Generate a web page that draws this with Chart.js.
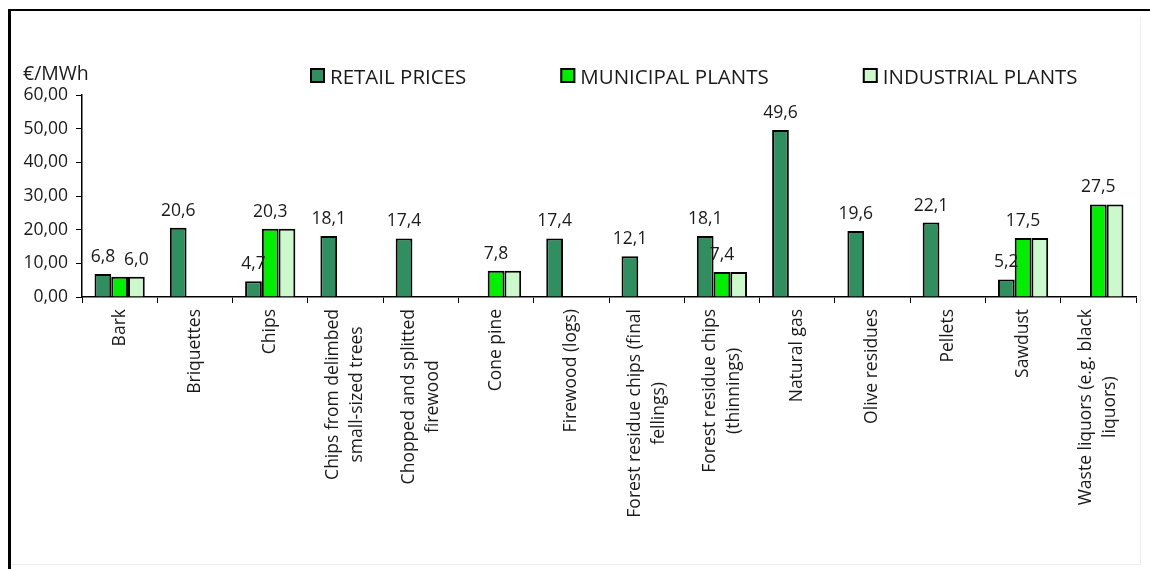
<!DOCTYPE html>
<html>
<head>
<meta charset="utf-8">
<script src="https://cdn.jsdelivr.net/npm/chart.js@4/dist/chart.umd.min.js"></script>
<style>
  html, body { margin: 0; padding: 0; background: #fff; width: 1150px; height: 569px; overflow: hidden; }
  #wrap { position: relative; width: 1150px; height: 569px; }
  #c { position: absolute; left: 0; top: 0; }
  .frame { position: absolute; left: 8px; top: 9px; right: -10px; bottom: -10px;
           border-left: 3px solid #000; border-top: 2px solid #000; pointer-events: none; }
  .edge-r { position: absolute; left: 1140px; top: 17px; width: 1px; height: 548px; background: #ececec; }
  .edge-b { position: absolute; left: 12px; top: 564px; width: 1128px; height: 1px; background: #ececec; }
</style>
</head>
<body>
<div id="wrap">
  <canvas id="c" width="1150" height="569"></canvas>
  <div class="edge-r"></div>
  <div class="edge-b"></div>
  <div class="frame"></div>
</div>
<script>
// Fuel categories (multi-line labels as arrays)
const categories = [
  'Bark',
  'Briquettes',
  'Chips',
  ['Chips from delimbed', 'small-sized trees'],
  ['Chopped and splitted', 'firewood'],
  'Cone pine',
  'Firewood (logs)',
  ['Forest residue chips (final', 'fellings)'],
  ['Forest residue chips', '(thinnings)'],
  'Natural gas',
  'Olive residues',
  'Pellets',
  'Sawdust',
  ['Waste liquors (e.g. black', 'liquors)']
];

// Prices in €/MWh
const retailPrices     = [6.8, 20.6, 4.7, 18.1, 17.4, null, 17.4, 12.1, 18.1, 49.6, 19.6, 22.1, 5.2, null];
const municipalPlants  = [6.0, null, 20.3, null, null, 7.8, null, null, 7.4, null, null, null, 17.5, 27.5];
const industrialPlants = [6.0, null, 20.3, null, null, 7.8, null, null, 7.4, null, null, null, 17.5, 27.5];

const seriesNames = ['RETAIL PRICES', 'MUNICIPAL PLANTS', 'INDUSTRIAL PLANTS'];

// Value axis
const yMin = 0, yMax = 60, yStep = 10;
const yUnit = '€/MWh';

// Where the shared plant price is written above the industrial bar instead of the municipal one
const plantLabelOnIndustrial = ['Bark'];

const FONT = "'Open Sans', 'DejaVu Sans', sans-serif";
const TEXT = '#1a1a1a';

const comma = (v, d) => v.toFixed(d).replace('.', ',');
const catName = (c) => Array.isArray(c) ? c.join(' ') : c;

const showLabel = [
  retailPrices.map(v => v != null),
  municipalPlants.map((v, i) => v != null && !plantLabelOnIndustrial.includes(catName(categories[i]))),
  industrialPlants.map((v, i) => v != null && plantLabelOnIndustrial.includes(catName(categories[i])))
];

// Numbers written above the bars
const valueLabels = {
  id: 'valueLabels',
  afterDatasetsDraw(chart) {
    const ctx = chart.ctx;
    ctx.save();
    ctx.font = `17.5px ${FONT}`;
    ctx.fillStyle = TEXT;
    ctx.textAlign = 'center';
    ctx.textBaseline = 'alphabetic';
    chart.data.datasets.forEach((ds, di) => {
      const meta = chart.getDatasetMeta(di);
      ds.data.forEach((v, i) => {
        if (v == null || !showLabel[di][i]) return;
        const bar = meta.data[i];
        ctx.fillText(comma(v, 1), bar.x, bar.y - 12);
      });
    });
    ctx.restore();
  }
};

// Multi-line category names: centre the block on the category and centre each line
const centredCategoryLabels = {
  id: 'centredCategoryLabels',
  beforeDraw(chart) {
    const scale = chart.scales.x;
    const items = scale.getLabelItems(chart.chartArea);
    const ctx = chart.ctx;
    ctx.save();
    items.forEach(item => {
      if (!Array.isArray(item.label) || item.label.length < 2) return;
      ctx.font = item.font.string;
      const w = Math.max(...item.label.map(l => ctx.measureText(l).width));
      const n = item.label.length;
      item.options.textAlign = 'center';
      item.options.translation[1] += w / 2;
      item.options.translation[0] -= (n - 1) * item.font.lineHeight / 2;
    });
    ctx.restore();
  }
};

// Legend row and unit caption above the plot
const headerText = {
  id: 'headerText',
  afterDraw(chart) {
    const ctx = chart.ctx;
    ctx.save();
    ctx.fillStyle = TEXT;
    ctx.font = `19.5px ${FONT}`;
    ctx.textBaseline = 'alphabetic';
    ctx.textAlign = 'left';
    ctx.fillText(yUnit, 23, 80);

    ctx.font = `20.5px ${FONT}`;
    let x = 310;
    const top = 68, size = 15;
    chart.data.datasets.forEach(ds => {
      ctx.fillStyle = ds.backgroundColor;
      ctx.fillRect(x, top, size, size);
      ctx.lineWidth = 2;
      ctx.strokeStyle = '#000';
      ctx.strokeRect(x + 1, top + 1, size - 2, size - 2);
      ctx.fillStyle = TEXT;
      ctx.fillText(ds.label, x + size + 5, top + size + 1);
      x += size + 5 + ctx.measureText(ds.label).width + 94;
    });
    ctx.restore();
  }
};

const barStyle = { borderColor: '#000', borderWidth: 2, categoryPercentage: 0.667, barPercentage: 1.0 };

new Chart(document.getElementById('c'), {
  type: 'bar',
  data: {
    labels: categories,
    datasets: [
      { label: seriesNames[0], data: retailPrices, backgroundColor: '#2f8f5f', ...barStyle },
      { label: seriesNames[1], data: municipalPlants, backgroundColor: '#00ee00', ...barStyle },
      { label: seriesNames[2], data: industrialPlants, backgroundColor: '#ccf9cc', ...barStyle }
    ]
  },
  options: {
    responsive: false,
    animation: false,
    devicePixelRatio: 1,
    layout: { padding: { top: 95, left: 0, right: 14, bottom: 0 } },
    plugins: {
      legend: { display: false },
      tooltip: { enabled: false },
      title: { display: false }
    },
    scales: {
      x: {
        grid: { offset: true, drawOnChartArea: false, drawTicks: true, tickLength: 6, color: '#000', lineWidth: 1 },
        border: { display: true, color: '#000', width: 1.5 },
        ticks: {
          autoSkip: false, maxRotation: 90, minRotation: 90, padding: 6,
          color: TEXT, font: { family: FONT, size: 17.5, lineHeight: '24px' }
        },
        afterFit(scale) { scale.height = 272; scale.paddingLeft = 0; scale.paddingRight = 0; }
      },
      y: {
        min: yMin, max: yMax,
        grid: { drawOnChartArea: false, drawTicks: true, tickLength: 6, color: '#000', lineWidth: 1 },
        border: { display: true, color: '#000', width: 1.5 },
        ticks: {
          stepSize: yStep, padding: 8, color: TEXT,
          font: { family: FONT, size: 17.5 },
          callback: (v) => comma(v, 2)
        },
        afterFit(scale) { scale.width = 82; }
      }
    }
  },
  plugins: [valueLabels, centredCategoryLabels, headerText]
});
</script>
</body>
</html>
